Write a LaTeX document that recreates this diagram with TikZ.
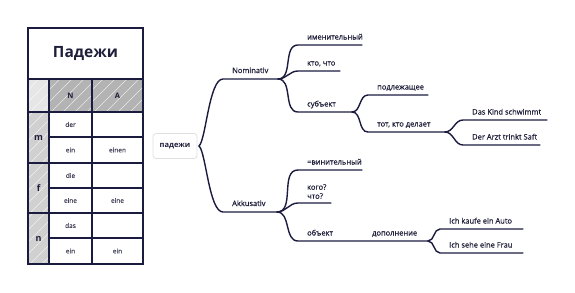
\documentclass[tikz,border=0pt]{standalone}
\usepackage{fontspec}
\setmainfont{Open Sans}
\newfontfamily\medfont{Open Sans}[FakeBold=0.6]
\newfontfamily\cellfont{Open Sans}[FakeBold=0.3]
\definecolor{navy}{HTML}{1B1B40}
\definecolor{txt}{HTML}{1F1F3A}
\definecolor{hdrgray}{HTML}{B3B3B3}
\definecolor{sidegray}{HTML}{D0D0D0}
\definecolor{cornergray}{HTML}{E6E6E6}
\newcommand\hatchcell[5]{%
  \fill[#5] (#1,#2) rectangle (#3,#4);
  \begin{scope}
    \clip (#1,#2) rectangle (#3,#4);
    \foreach \k in {-70,-58,...,60}
      \draw[white, opacity=0.7, line width=0.5pt] (#1+\k,#4) -- (#1+\k+70,#4-70);
  \end{scope}}
\tikzset{
  tbl/.style={draw=navy, line width=1.3pt},
  br/.style={draw=navy, line width=1.4pt, line cap=round},
  lbl/.style={anchor=base west, inner sep=0pt, text=txt, font=\medfont\fontsize{7.5}{9}\selectfont},
  cell/.style={inner sep=0pt, text=txt!85, font=\cellfont\fontsize{6.5}{8}\selectfont},
  gen/.style={inner sep=0pt, text=txt, font=\bfseries\fontsize{9}{10}\selectfont},
}
\begin{document}
\begin{tikzpicture}[x=1pt,y=-1pt]
\useasboundingbox (0,0) rectangle (575,292);
% ---------- table ----------
\hatchcell{28}{79}{49}{112}{cornergray}
\hatchcell{49}{79}{92}{112}{hdrgray}
\hatchcell{92}{79}{143}{112}{hdrgray}
\hatchcell{28}{112}{49}{163}{sidegray}
\hatchcell{28}{163}{49}{213}{sidegray}
\hatchcell{28}{213}{49}{264}{sidegray}
\draw[tbl] (28,28) rectangle (143,264);
\draw[tbl] (28,79) -- (143,79);
\draw[tbl] (28,112) -- (143,112);
\draw[tbl] (28,163) -- (143,163);
\draw[tbl] (28,213) -- (143,213);
\draw[tbl] (49,137) -- (143,137);
\draw[tbl] (49,188) -- (143,188);
\draw[tbl] (49,238) -- (143,238);
\draw[tbl] (49,79) -- (49,264);
\draw[tbl] (92,79) -- (92,264);
\node[inner sep=0pt, text=txt, font=\bfseries\fontsize{15.5}{16}\selectfont] (title) at (85.5,53) {Падежи};
\node[gen, font=\bfseries\fontsize{7.5}{9}\selectfont] (hN) at (70.5,96) {N};
\node[gen, font=\bfseries\fontsize{7.5}{9}\selectfont] (hA) at (117.5,96) {A};
\node[gen] (gm) at (38.5,137.5) {m};
\node[gen] (gf) at (38.5,188) {f};
\node[gen] (gn) at (38.5,238.5) {n};
\node[cell] (c1) at (70.5,124.5) {der};
\node[cell] (c2) at (70.5,150) {ein};
\node[cell] (c3) at (117.5,150) {einen};
\node[cell] (c4) at (70.5,175.5) {die};
\node[cell] (c5) at (70.5,200.5) {eine};
\node[cell] (c6) at (117.5,200.5) {eine};
\node[cell] (c7) at (70.5,225.5) {das};
\node[cell] (c8) at (70.5,251) {ein};
\node[cell] (c9) at (117.5,251) {ein};
% ---------- mind map ----------
\node[draw=black!12, rounded corners=3pt, line width=0.8pt, minimum width=44pt, minimum height=25pt,
      text=txt, font=\bfseries\fontsize{7.5}{9}\selectfont] (root) at (175,146) {падежи};
\coordinate (r) at (199,146);
% Nominativ
\coordinate (nomS) at (223,79);  \coordinate (nomE) at (278,79);
\coordinate (n1) at (298,45);   \coordinate (n1e) at (362,45);
\coordinate (n2) at (298,71);   \coordinate (n2e) at (340,71);
\coordinate (n3) at (298,112);  \coordinate (n3e) at (352,112);
\coordinate (s1) at (368,95);   \coordinate (s1e) at (428,95);
\coordinate (s2) at (368,132);  \coordinate (s2e) at (445,132);
\coordinate (t1) at (463,120);  \coordinate (t1e) at (547,120);
\coordinate (t2) at (463,145);  \coordinate (t2e) at (540,145);
% Akkusativ
\coordinate (akS) at (223,212); \coordinate (akE) at (277,212);
\coordinate (a1) at (298,170);  \coordinate (a1e) at (362,170);
\coordinate (a2) at (298,203);  \coordinate (a2e) at (331,203);
\coordinate (a3) at (298,241);  \coordinate (a3e) at (363,241);
\coordinate (dE) at (428,241);
\coordinate (d1) at (440,229);  \coordinate (d1e) at (523,229);
\coordinate (d2) at (440,253);  \coordinate (d2e) at (523,253);

\draw[br] (r) .. controls +(7,-6) and +(-14,0) .. (nomS) -- (nomE);
\draw[br] (r) .. controls +(7,6) and +(-14,0) .. (akS) -- (akE);
\draw[br] (nomE) to[out=0,in=180] (n1) -- (n1e);
\draw[br] (nomE) to[out=0,in=180] (n2) -- (n2e);
\draw[br] (nomE) to[out=0,in=180] (n3) -- (n3e);
\draw[br] (n3e) to[out=0,in=180] (s1) -- (s1e);
\draw[br] (n3e) to[out=0,in=180] (s2) -- (s2e);
\draw[br] (s2e) to[out=0,in=180] (t1) -- (t1e);
\draw[br] (s2e) to[out=0,in=180] (t2) -- (t2e);
\draw[br] (akE) to[out=0,in=180] (a1) -- (a1e);
\draw[br] (akE) to[out=0,in=180] (a2) -- (a2e);
\draw[br] (akE) to[out=0,in=180] (a3) -- (a3e) -- (dE);
\draw[br] (dE) to[out=0,in=180] (d1) -- (d1e);
\draw[br] (dE) to[out=0,in=180] (d2) -- (d2e);

\node[lbl] (lnom) at (232,73) {Nominativ};
\node[lbl] (ln1) at (307,39.5) {именительный};
\node[lbl] (ln2) at (307,65.5) {кто, что};
\node[lbl] (ln3) at (307,106.5) {субъект};
\node[lbl] (ls1) at (377,89.5) {подлежащее};
\node[lbl] (ls2) at (377,126.5) {тот, кто делает};
\node[lbl] (lt1) at (472,114.5) {Das Kind schwimmt};
\node[lbl] (lt2) at (472,139.5) {Der Arzt trinkt Saft};
\node[lbl] (lak) at (232,206) {Akkusativ};
\node[lbl] (la1) at (307,164.5) {=винительный};
\node[lbl, anchor=south west, align=left] (la2) at (307,199) {кого?\\что?};
\node[lbl] (la3) at (307,235.5) {объект};
\node[lbl] (ld) at (372,235.5) {дополнение};
\node[lbl] (ld1) at (449,223.5) {Ich kaufe ein Auto};
\node[lbl] (ld2) at (449,247.5) {Ich sehe eine Frau};
\end{tikzpicture}
\end{document}
